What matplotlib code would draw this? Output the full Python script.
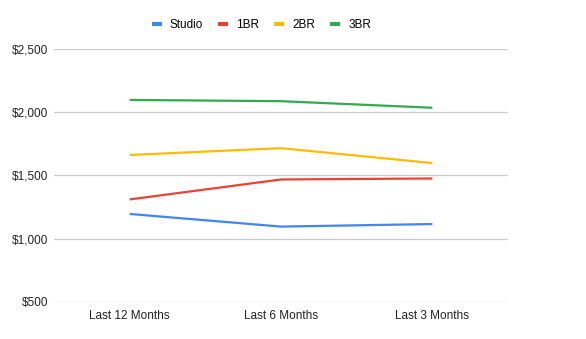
import matplotlib.pyplot as plt
from matplotlib.lines import Line2D
from matplotlib.ticker import FuncFormatter

periods = ['Last 12 Months', 'Last 6 Months', 'Last 3 Months']
studio = [1195, 1095, 1115]
one_br = [1310, 1468, 1476]
two_br = [1662, 1716, 1598]
three_br = [2098, 2088, 2036]

series = [
    ('Studio', studio, '#4285F4'),
    ('1BR', one_br, '#EA4335'),
    ('2BR', two_br, '#FBBC04'),
    ('3BR', three_br, '#34A853'),
]

plt.rcParams['font.family'] = ['Liberation Sans', 'DejaVu Sans']

fig = plt.figure(figsize=(5.86, 3.39), dpi=100)
ax = fig.add_axes([0.092, 0.110, 0.775, 0.745])

x = list(range(len(periods)))
for name, vals, color in series:
    ax.plot(x, vals, color=color, linewidth=1.6, solid_capstyle='butt')

ax.set_xlim(-0.5, len(periods) - 0.5)
ax.set_ylim(500, 2500)
ax.set_yticks([500, 1000, 1500, 2000, 2500])
ax.yaxis.set_major_formatter(FuncFormatter(lambda v, p: '${:,.0f}'.format(v)))
ax.set_xticks(x)
ax.set_xticklabels(periods)
ax.tick_params(axis='both', length=0, labelsize=8.5, colors='#222222')
ax.tick_params(axis='x', pad=6)
ax.tick_params(axis='y', pad=4)
ax.grid(axis='y', color='#cccccc', linewidth=0.9)
ax.set_axisbelow(True)
for s in ax.spines.values():
    s.set_visible(False)

handles = [Line2D([0], [0], color=c, linewidth=3, solid_capstyle='butt') for _, _, c in series]
fig.legend(handles, [n for n, _, _ in series], loc='center', bbox_to_anchor=(0.446, 0.926),
           ncol=4, frameon=False, fontsize=8.5, handlelength=0.85, handletextpad=0.68,
           columnspacing=1.27)

fig.savefig('out.png', dpi=100, facecolor='white')
